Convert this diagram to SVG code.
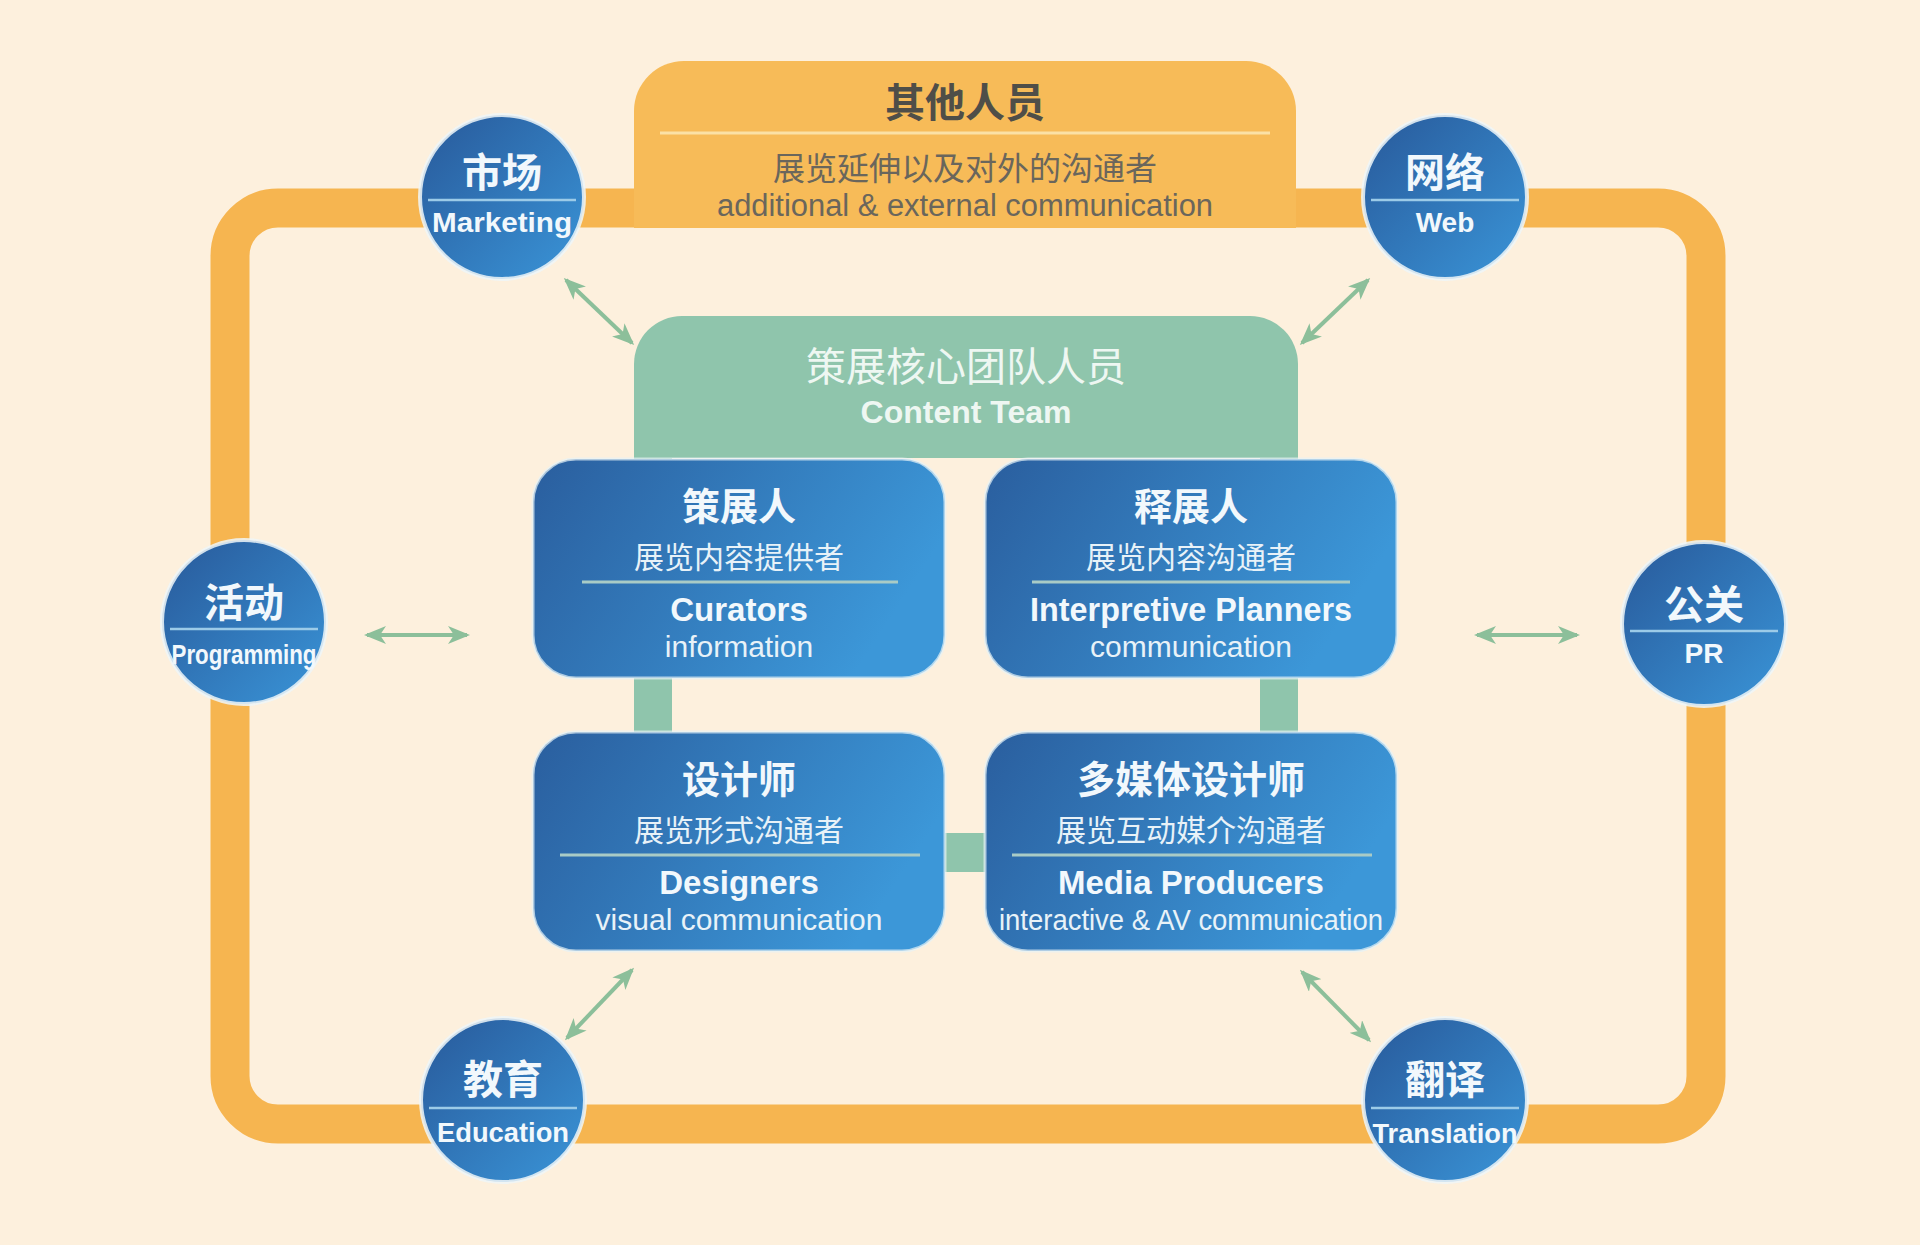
<svg xmlns="http://www.w3.org/2000/svg" width="1920" height="1245" viewBox="0 0 1920 1245">
<defs>
<linearGradient id="gBox" x1="0" y1="0" x2="1" y2="0.35">
<stop offset="0" stop-color="#2a5e9e"/>
<stop offset="1" stop-color="#3c97d8"/>
</linearGradient>
<linearGradient id="gCir" x1="0" y1="0" x2="1" y2="1">
<stop offset="0" stop-color="#28599a"/>
<stop offset="1" stop-color="#3a95d8"/>
</linearGradient>
<marker id="ah" viewBox="0 0 22 18" refX="19" refY="9" markerWidth="22" markerHeight="18" markerUnits="userSpaceOnUse" orient="auto-start-reverse">
<path d="M0,0 L22,9 L0,18 L6,9 Z" fill="#8cbf9a"/>
</marker>
<style>
.bg{fill:#fdf0dd}
.frame{fill:none;stroke:#f6b550;stroke-width:39}
.topbox{fill:#f7bb58}
.green{fill:#8fc5ac}
.box{fill:url(#gBox);stroke:#e6f2f6;stroke-opacity:0.7;stroke-width:3}
.cir{fill:url(#gCir);stroke:#eef6f8;stroke-opacity:0.85;stroke-width:4}
.sepw{stroke:#a9cbc6;stroke-width:3}
.sepc{stroke:#9ccbe8;stroke-width:2.5}
.arrow{stroke:#8cbf9a;stroke-width:4;fill:none;marker-start:url(#ah);marker-end:url(#ah)}
text{font-family:"Liberation Sans","Noto Sans CJK SC",sans-serif;text-anchor:middle}
.zh{font-family:"Noto Sans CJK SC","Liberation Sans",sans-serif}
.t1{font-size:38px;font-weight:700;fill:#f2f8fc}
.t2{font-size:30px;fill:#e8f2f8}
.e1{font-size:33px;font-weight:700;fill:#f2f8fc}
.e2{font-size:30px;fill:#e8f2f8}
.cz{font-size:40px;font-weight:700;fill:#f2f8fc}
.ce{font-size:28px;font-weight:700;fill:#f2f8fc}
</style>
</defs>
<rect class="bg" x="0" y="0" width="1920" height="1245"/>

<g id="outer-frame">
<rect class="frame" x="230" y="208" width="1476" height="916" rx="48"/>
</g>

<g id="other-staff">
<path class="topbox" d="M634,228 V111 A50,50 0 0 1 684,61 H1246 A50,50 0 0 1 1296,111 V228 Z"/>
<text class="zh" x="965" y="117" font-size="40" font-weight="700" fill="#4f4e48">其他人员</text>
<line x1="660" y1="133" x2="1270" y2="133" stroke="#fbe1a6" stroke-width="3"/>
<text class="zh" x="965" y="180" font-size="32" fill="#6a665c">展览延伸以及对外的沟通者</text>
<text x="965" y="216" font-size="31" fill="#6a665c" textLength="496" lengthAdjust="spacingAndGlyphs">additional &amp; external communication</text>
</g>

<g id="content-team">
<path class="green" d="M634,458 V364 A48,48 0 0 1 682,316 H1250 A48,48 0 0 1 1298,364 V458 Z"/>
<rect class="green" x="634" y="450" width="38" height="422"/>
<rect class="green" x="1260" y="450" width="38" height="422"/>
<rect class="green" x="634" y="833" width="664" height="39"/>
<text class="zh" x="966" y="381" font-size="40" fill="#eef7f2">策展核心团队人员</text>
<text x="966" y="423" font-size="32" font-weight="700" fill="#eef7f2">Content Team</text>
</g>

<g id="curators">
<rect class="box" x="533" y="459" width="412" height="219" rx="43"/>
<text class="zh t1" x="739" y="520">策展人</text>
<text class="zh t2" x="739" y="568">展览内容提供者</text>
<line class="sepw" x1="582" y1="582" x2="898" y2="582"/>
<text class="e1" x="739" y="621">Curators</text>
<text class="e2" x="739" y="657">information</text>
</g>

<g id="interpretive-planners">
<rect class="box" x="985" y="459" width="412" height="219" rx="43"/>
<text class="zh t1" x="1191" y="520">释展人</text>
<text class="zh t2" x="1191" y="568">展览内容沟通者</text>
<line class="sepw" x1="1032" y1="582" x2="1350" y2="582"/>
<text class="e1" x="1191" y="621" textLength="322" lengthAdjust="spacingAndGlyphs">Interpretive Planners</text>
<text class="e2" x="1191" y="657">communication</text>
</g>

<g id="designers">
<rect class="box" x="533" y="732" width="412" height="219" rx="43"/>
<text class="zh t1" x="739" y="793">设计师</text>
<text class="zh t2" x="739" y="841">展览形式沟通者</text>
<line class="sepw" x1="560" y1="855" x2="920" y2="855"/>
<text class="e1" x="739" y="894">Designers</text>
<text class="e2" x="739" y="930">visual communication</text>
</g>

<g id="media-producers">
<rect class="box" x="985" y="732" width="412" height="219" rx="43"/>
<text class="zh t1" x="1191" y="793">多媒体设计师</text>
<text class="zh t2" x="1191" y="841">展览互动媒介沟通者</text>
<line class="sepw" x1="1012" y1="855" x2="1372" y2="855"/>
<text class="e1" x="1191" y="894">Media Producers</text>
<text class="e2" x="1191" y="930" textLength="384" lengthAdjust="spacingAndGlyphs">interactive &amp; AV communication</text>
</g>

<g id="marketing">
<circle class="cir" cx="502" cy="197" r="82"/>
<text class="zh cz" x="502" y="187">市场</text>
<line class="sepc" x1="428" y1="200" x2="576" y2="200"/>
<text class="ce" x="502" y="232" textLength="140" lengthAdjust="spacingAndGlyphs">Marketing</text>
</g>

<g id="web">
<circle class="cir" cx="1445" cy="197" r="82"/>
<text class="zh cz" x="1445" y="187">网络</text>
<line class="sepc" x1="1371" y1="200" x2="1519" y2="200"/>
<text class="ce" x="1445" y="232">Web</text>
</g>

<g id="programming">
<circle class="cir" cx="244" cy="622" r="82"/>
<text class="zh cz" x="244" y="617">活动</text>
<line class="sepc" x1="170" y1="629" x2="318" y2="629"/>
<text class="ce" x="244" y="664" textLength="145" lengthAdjust="spacingAndGlyphs">Programming</text>
</g>

<g id="pr">
<circle class="cir" cx="1704" cy="624" r="82"/>
<text class="zh cz" x="1704" y="619">公关</text>
<line class="sepc" x1="1630" y1="631" x2="1778" y2="631"/>
<text class="ce" x="1704" y="663">PR</text>
</g>

<g id="education">
<circle class="cir" cx="503" cy="1100" r="82"/>
<text class="zh cz" x="503" y="1094">教育</text>
<line class="sepc" x1="429" y1="1108" x2="577" y2="1108"/>
<text class="ce" x="503" y="1142" textLength="132" lengthAdjust="spacingAndGlyphs">Education</text>
</g>

<g id="translation">
<circle class="cir" cx="1445" cy="1100" r="82"/>
<text class="zh cz" x="1445" y="1094">翻译</text>
<line class="sepc" x1="1371" y1="1108" x2="1519" y2="1108"/>
<text class="ce" x="1445" y="1143" textLength="145" lengthAdjust="spacingAndGlyphs">Translation</text>
</g>

<g id="connectors">
<line class="arrow" x1="566" y1="280" x2="632" y2="343"/>
<line class="arrow" x1="1368" y1="280" x2="1302" y2="343"/>
<line class="arrow" x1="367" y1="635" x2="467" y2="635"/>
<line class="arrow" x1="1477" y1="635" x2="1577" y2="635"/>
<line class="arrow" x1="567" y1="1038" x2="632" y2="970"/>
<line class="arrow" x1="1369" y1="1040" x2="1302" y2="972"/>
</g>
</svg>
